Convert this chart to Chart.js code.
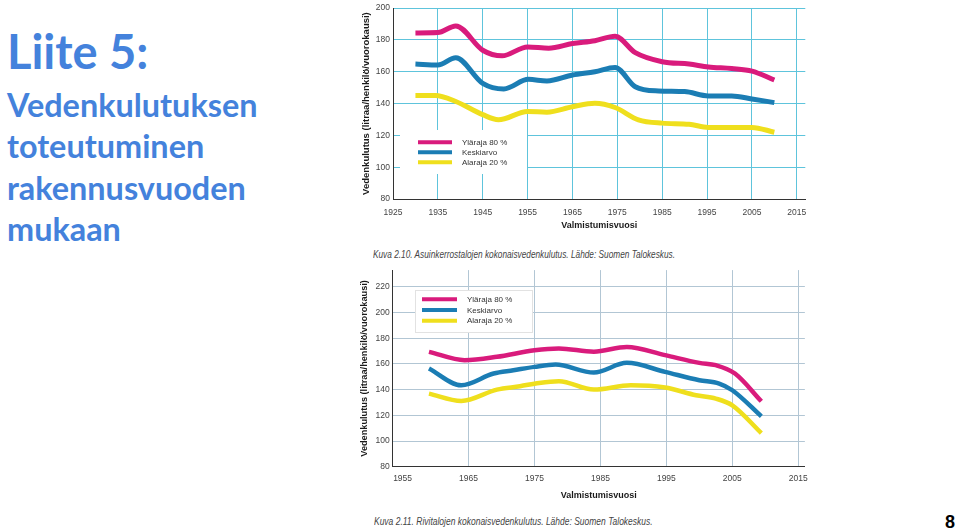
<!DOCTYPE html>
<html><head><meta charset="utf-8">
<script src="https://cdn.jsdelivr.net/npm/chart.js@4.4.1/dist/chart.umd.min.js"></script>
<style>
html,body{margin:0;padding:0;background:#fff;width:959px;height:530px;overflow:hidden;position:relative}
.t{position:absolute;left:7px;color:#4482dc;font-family:Lato,sans-serif;font-weight:bold;white-space:nowrap;line-height:1;margin:0}
.wrap{position:absolute;left:355px}
.cap{position:absolute;font-family:"Liberation Sans Narrow","Liberation Sans",sans-serif;font-style:italic;font-size:10px;color:#444;white-space:nowrap;transform-origin:left center;line-height:1}
#pg{position:absolute;left:945px;top:513px;font-family:"Liberation Sans",sans-serif;font-weight:bold;font-size:18px;line-height:1;color:#000}
</style></head>
<body>
<div class="t" id="h0" style="top:28px;font-size:47px">Liite 5:</div>
<div class="t" id="h1" style="top:89px;font-size:32.4px">Vedenkulutuksen</div>
<div class="t" id="h2" style="top:130px;font-size:32.4px">toteutuminen</div>
<div class="t" id="h3" style="top:172px;font-size:32.4px">rakennusvuoden</div>
<div class="t" id="h4" style="top:213px;font-size:32.4px">mukaan</div>

<div class="wrap" style="top:0;width:460px;height:240px"><canvas id="c1" width="460" height="240"></canvas></div>
<div class="wrap" style="top:262px;width:460px;height:244px"><canvas id="c2" width="460" height="244"></canvas></div>

<div class="cap" id="cap1" style="left:373px;top:250px">Kuva 2.10. Asuinkerrostalojen kokonaisvedenkulutus. Lähde: Suomen Talokeskus.</div>
<div class="cap" id="cap2" style="left:374px;top:517px">Kuva 2.11. Rivitalojen kokonaisvedenkulutus. Lähde: Suomen Talokeskus.</div>
<div id="pg">8</div>

<script>
// ---------- DATA ----------
const seriesLabels = ['Yläraja 80 %', 'Keskiarvo', 'Alaraja 20 %'];

// Chart 1: Asuinkerrostalot
const xTicks1 = [1925,1935,1945,1955,1965,1975,1985,1995,2005,2015];
const yTicks1 = [80,100,120,140,160,180,200];
const upperYears1 = [1930,1935,1939,1945,1949.3,1955,1959.7,1965,1970,1974.5,1979,1985,1991,1995.3,2000.5,2005,2010];
const upperVals1  = [184.4,184.6,188.8,173.5,170,175.6,174.8,177.7,179.5,182.3,172,166.3,164.8,163,162,160.4,154.8];
const meanYears1  = [1930,1935,1939,1945,1949.7,1955.2,1959.3,1965,1970,1974.5,1979,1984.2,1990,1995.3,2000.5,2005,2010];
const meanVals1   = [164.8,164.2,168.8,152.7,149.2,155.2,154.2,157.9,160,162.7,150.6,147.9,147.5,144.8,144.8,142.9,140.6];
const lowerYears1 = [1930,1934.4,1939,1945,1948.5,1955,1959.3,1965,1970,1974.5,1979.7,1985,1991,1995.3,2000,2005,2010];
const lowerVals1  = [145,145,141.3,133,129.8,135,134.6,138,140.2,137.5,129.8,127.7,127,125,125,125,122];

// Chart 2: Rivitalot
const xTicks2 = [1955,1965,1975,1985,1995,2005,2015];
const yTicks2 = [80,100,120,140,160,180,200,220];
const upperYears2 = [1959,1964.4,1969.3,1975,1978.7,1984,1989,1994.8,2000,2002.5,2005.4,2009.4];
const upperVals2  = [169.4,162.9,165.5,170.6,172,169.5,173.2,166.8,160.8,159,152.5,130.9];
const meanYears2  = [1959,1963.9,1968.8,1971.8,1975,1978.2,1984,1989,1994.8,2000,2003,2005,2009.4];
const meanVals2   = [156.4,143.4,152.5,155,157.7,159.5,153.3,160.8,153.8,147.3,144.7,139.5,119.2];
const lowerYears2 = [1959,1963.9,1969.3,1972.8,1975.7,1978.7,1984,1989.6,1994.8,1999.5,2002.5,2005,2009.4];
const lowerVals2  = [136.9,131.2,140,142.6,145.2,146.5,140,143.4,141.6,135.6,133,127.8,106.2];

const xTitle = 'Valmistumisvuosi';
const yTitle = 'Vedenkulutus (litraa/henkilö/vuorokausi)';

// ---------- STYLE ----------
const COLORS = ['#d91b7c', '#1b7db4', '#efdf1d'];
const pts = (xs, ys) => xs.map((x, i) => ({x: x, y: ys[i]}));

const legendPlugin = {
  id: 'boxLegend',
  beforeDatasetsDraw(chart, args, o) {
    const ctx = chart.ctx;
    ctx.save();
    if (o.box) {
      ctx.fillStyle = '#fff';
      ctx.fillRect(o.box[0], o.box[1], o.box[2], o.box[3]);
      if (o.boxBorder) {
        ctx.strokeStyle = o.boxBorder; ctx.lineWidth = 1;
        ctx.strokeRect(o.box[0] + 0.5, o.box[1] + 0.5, o.box[2], o.box[3]);
      }
    }
    chart.data.datasets.forEach((ds, i) => {
      const y = o.y + i * o.gap;
      ctx.strokeStyle = ds.borderColor; ctx.lineWidth = o.lw; ctx.lineCap = 'butt';
      ctx.beginPath(); ctx.moveTo(o.x, y); ctx.lineTo(o.x + o.len, y); ctx.stroke();
      ctx.fillStyle = '#333'; ctx.font = o.font; ctx.textBaseline = 'middle'; ctx.textAlign = 'left';
      ctx.fillText(ds.label, o.tx, y + 0.5);
    });
    ctx.restore();
  }
};

function makeChart(id, cfg) {
  const tickFont = {family: 'Liberation Sans', size: 8.5};
  const titleFont = {family: 'Liberation Sans', size: 9, weight: 'bold'};
  return new Chart(document.getElementById(id), {
    type: 'line',
    data: {datasets: cfg.series.map((s, i) => ({
      label: seriesLabels[i], data: s, borderColor: COLORS[i], borderWidth: cfg.lw,
      pointRadius: 0, fill: false, cubicInterpolationMode: 'monotone', borderCapStyle: 'butt'
    }))},
    options: {
      responsive: false, animation: false, devicePixelRatio: 1,
      layout: {padding: cfg.padding},
      plugins: {legend: {display: false}, tooltip: {enabled: false}, boxLegend: cfg.legend},
      scales: {
        x: {
          type: 'linear', min: cfg.xmin, max: cfg.xmax,
          afterBuildTicks: s => { s.ticks = cfg.xTicks.map(v => ({value: v})); },
          afterFit: s => { s.height = cfg.xh; },
          ticks: {font: tickFont, color: '#444', padding: cfg.xpad, maxRotation: 0, autoSkip: false, callback: v => String(v)},
          grid: {drawTicks: false, lineWidth: 1, color: c => (c.tick && cfg.xHide.includes(c.tick.value)) ? 'rgba(0,0,0,0)' : cfg.grid},
          border: {color: '#333', width: 1},
          title: {display: true, text: xTitle, font: titleFont, color: '#1a1a1a', padding: {top: 0, bottom: cfg.xtb}}
        },
        y: {
          min: cfg.ymin, max: cfg.ymax,
          afterBuildTicks: s => { s.ticks = cfg.yTicks.map(v => ({value: v})); },
          afterFit: s => { s.width = cfg.yw; },
          ticks: {font: tickFont, color: '#444', padding: 3, callback: v => String(v)},
          grid: {drawTicks: false, lineWidth: 1, color: c => (c.tick && c.tick.value === cfg.ymin) ? 'rgba(0,0,0,0)' : cfg.grid},
          border: {color: '#333', width: 1},
          title: {display: true, text: yTitle, font: {family: 'Liberation Sans', size: cfg.yts, weight: 'bold'}, color: '#1a1a1a', padding: {top: cfg.ytp, bottom: 0}}
        }
      }
    },
    plugins: [legendPlugin]
  });
}

makeChart('c1', {
  series: [pts(upperYears1, upperVals1), pts(meanYears1, meanVals1), pts(lowerYears1, lowerVals1)],
  lw: 5, padding: {top: 6, right: 8, left: 0, bottom: 0},
  xmin: 1925, xmax: 2016.9, xTicks: xTicks1, xHide: [1925], xh: 41, xpad: 8.6, xtb: 8.6,
  ymin: 80, ymax: 200, yTicks: yTicks1, yw: 38, ytp: 6, yts: 9.5,
  grid: '#5ec4dc',
  legend: {box: [45, 130, 127, 44], x: 63, len: 34, y: 142.3, gap: 10, lw: 4, tx: 107, font: '8px "Liberation Sans"'}
});

makeChart('c2', {
  series: [pts(upperYears2, upperVals2), pts(meanYears2, meanVals2), pts(lowerYears2, lowerVals2)],
  lw: 4.5, padding: {top: 8, right: 5, left: 0, bottom: 0},
  xmin: 1953.5, xmax: 2016, xTicks: xTicks2, xHide: [1955], xh: 39.3, xpad: 7.2, xtb: 4.6,
  ymin: 80, ymax: 233, yTicks: yTicks2, yw: 37.7, ytp: 4.4, yts: 9.2,
  grid: '#b2c6d4',
  legend: {box: [60, 28, 117, 42], boxBorder: '#e2e2e2', x: 67, len: 35, y: 37.3, gap: 10.7, lw: 4, tx: 112, font: '8px "Liberation Sans"'}
});

// fit captions to measured widths
function fitX(id, w) { const el = document.getElementById(id); el.style.transform = 'scaleX(' + (w / el.offsetWidth) + ')'; }
fitX('cap1', 302); fitX('cap2', 279);
</script>
</body></html>
